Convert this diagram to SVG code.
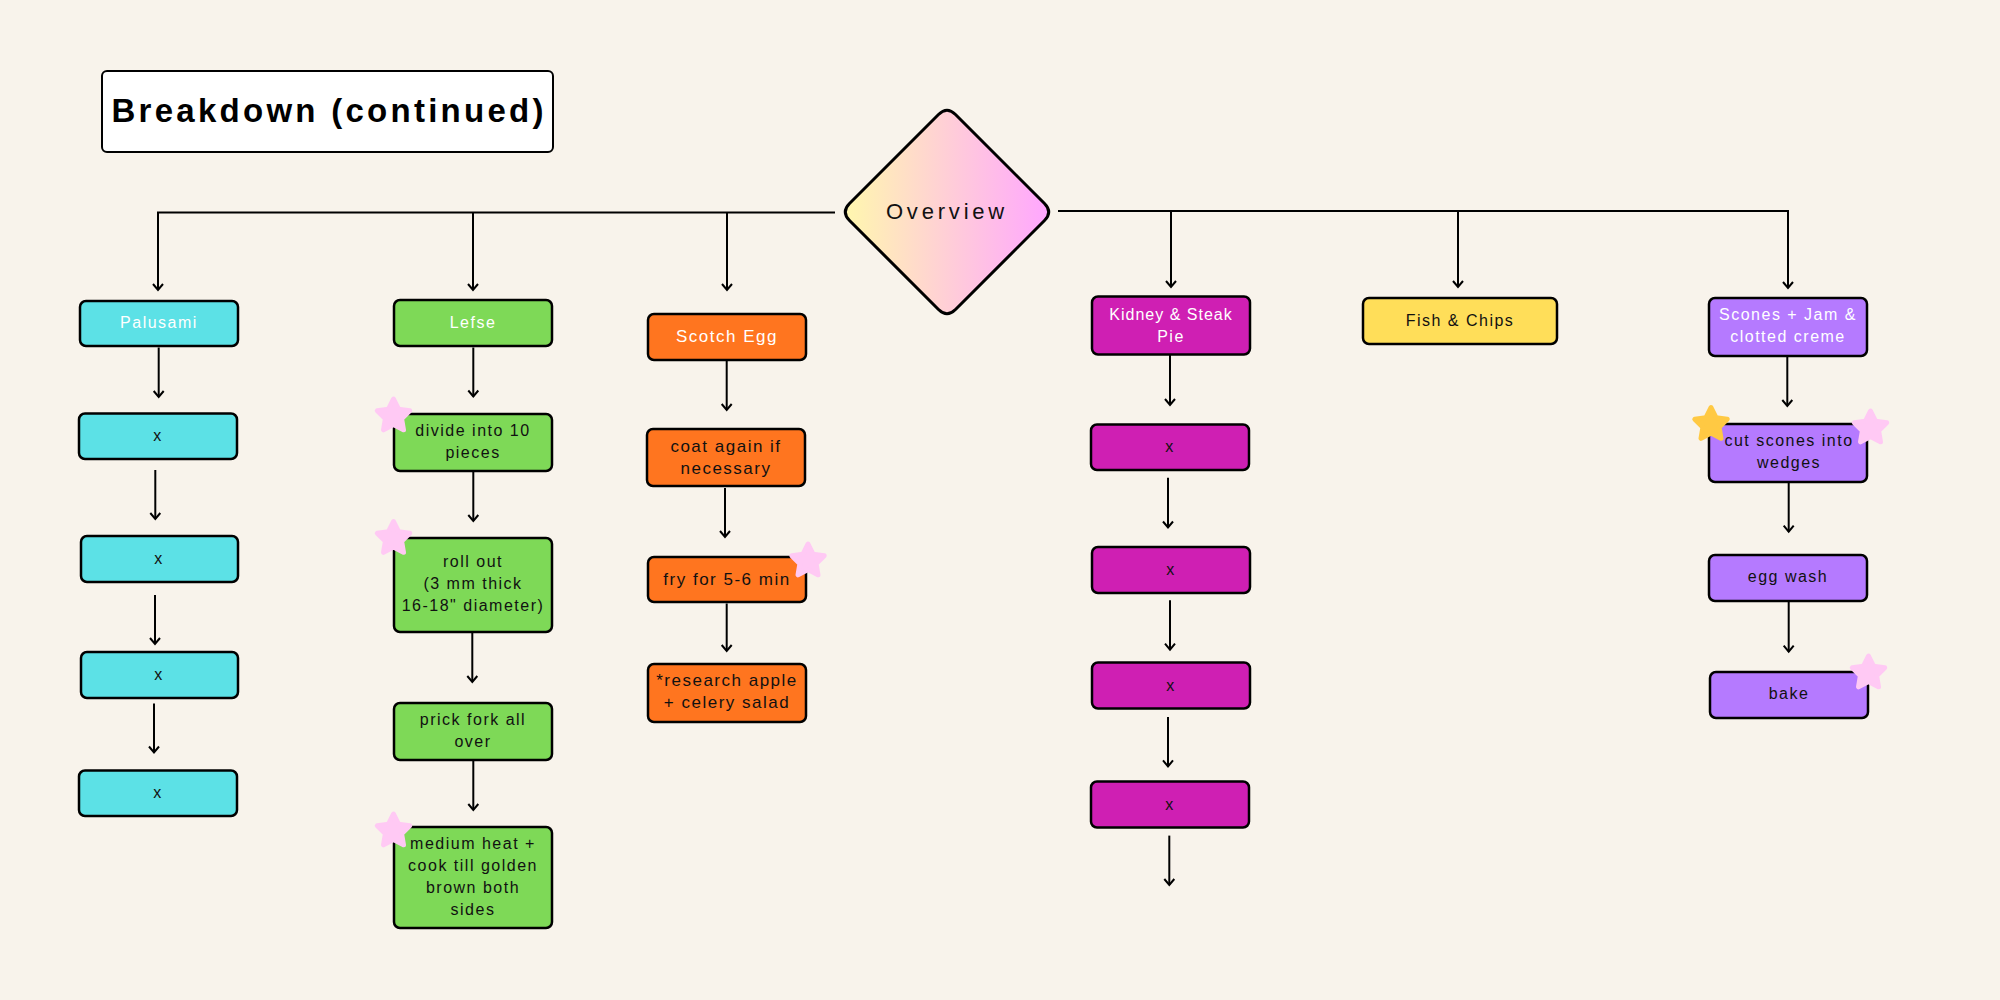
<svg xmlns="http://www.w3.org/2000/svg" xmlns:xlink="http://www.w3.org/1999/xlink" width="2000" height="1000" viewBox="0 0 2000 1000">
<style>
.box{stroke:#000;stroke-width:2.5}
.t{font-family:"Liberation Sans",Arial,sans-serif;font-size:16px;letter-spacing:1.5px;text-anchor:middle;fill:#111}
.w{fill:#fff}
.big{font-size:17px}
.c{fill:none;stroke:#000;stroke-width:2}
.cyan{fill:#5CE1E6}.green{fill:#7ED957}.orange{fill:#FF751F}.mag{fill:#CF1FB3}.yel{fill:#FFDE59}.pur{fill:#B57AFF}
.pink{fill:#FFC9F4;stroke:#FFC9F4;stroke-width:5;stroke-linejoin:round}
.gold{fill:#FFC943;stroke:#FFC943;stroke-width:5;stroke-linejoin:round}
</style>
<defs>
<linearGradient id="g" x1="0" y1="0" x2="1" y2="0">
<stop offset="0" stop-color="#FFF7AE"/>
<stop offset="1" stop-color="#FFA6FF"/>
</linearGradient>
<marker id="ah" markerUnits="userSpaceOnUse" markerWidth="14" markerHeight="14" viewBox="-8 -7 10 14" refX="0" refY="0" orient="auto">
<path d="M-6,-5 L0,0 L-6,5" fill="none" stroke="#000" stroke-width="2"/>
</marker>
<polygon id="star" points="0,-17 5,-6.9 16.2,-5.3 8.1,2.6 10,13.8 0,8.5 -10,13.8 -8.1,2.6 -16.2,-5.3 -5,-6.9"/>
</defs>
<rect width="2000" height="1000" fill="#F8F3EB"/>

<g id="title">
<rect x="102" y="71" width="451" height="81" rx="5" fill="#fff" stroke="#000" stroke-width="2"/>
<text x="327.5" y="122" font-family="Liberation Sans,Arial,sans-serif" font-weight="bold" font-size="33" text-anchor="middle" textLength="432" lengthAdjust="spacing">Breakdown (continued)</text>
</g>

<g id="connectors">
<path class="c" d="M835,212.5 H158 V290" marker-end="url(#ah)"/>
<path class="c" d="M473,212.5 V290" marker-end="url(#ah)"/>
<path class="c" d="M727,212.5 V290" marker-end="url(#ah)"/>
<path class="c" d="M1058,211 H1788 V288" marker-end="url(#ah)"/>
<path class="c" d="M1171,211 V287" marker-end="url(#ah)"/>
<path class="c" d="M1458,211 V287" marker-end="url(#ah)"/>

<path class="c" d="M158.7,347.5 V397" marker-end="url(#ah)"/>
<path class="c" d="M155.3,470 V519" marker-end="url(#ah)"/>
<path class="c" d="M155,595 V644" marker-end="url(#ah)"/>
<path class="c" d="M154,703.5 V752.5" marker-end="url(#ah)"/>

<path class="c" d="M473.3,347.5 V396.5" marker-end="url(#ah)"/>
<path class="c" d="M473.3,471.5 V521" marker-end="url(#ah)"/>
<path class="c" d="M472.3,633 V682" marker-end="url(#ah)"/>
<path class="c" d="M473.3,761 V810" marker-end="url(#ah)"/>

<path class="c" d="M726.7,361 V410" marker-end="url(#ah)"/>
<path class="c" d="M725,488 V537" marker-end="url(#ah)"/>
<path class="c" d="M726.7,603.5 V651" marker-end="url(#ah)"/>

<path class="c" d="M1170,355 V405" marker-end="url(#ah)"/>
<path class="c" d="M1168,477.7 V527.5" marker-end="url(#ah)"/>
<path class="c" d="M1170,600.3 V649.7" marker-end="url(#ah)"/>
<path class="c" d="M1168,717 V766.4" marker-end="url(#ah)"/>
<path class="c" d="M1169.3,835.6 V885" marker-end="url(#ah)"/>

<path class="c" d="M1787.3,356.7 V406" marker-end="url(#ah)"/>
<path class="c" d="M1788.7,482.7 V531.7" marker-end="url(#ah)"/>
<path class="c" d="M1788.7,602 V651.7" marker-end="url(#ah)"/>
</g>

<g id="overview">
<path d="M955.5,114.5 L1044.5,203.5 Q1053,212 1044.5,220.5 L955.5,309.5 Q947,318 938.5,309.5 L849.5,220.5 Q841,212 849.5,203.5 L938.5,114.5 Q947,106 955.5,114.5 Z" fill="url(#g)" stroke="#000" stroke-width="3"/>
<text x="947" y="218.5" font-family="Liberation Sans,Arial,sans-serif" font-size="22" letter-spacing="3.8" text-anchor="middle" fill="#111">Overview</text>
</g>

<!-- Palusami column -->
<g id="palusami"><rect class="box cyan" x="80" y="301" width="158" height="45" rx="6"/><text class="t w" x="159" y="328">Palusami</text></g>
<g id="pal-1"><rect class="box cyan" x="79" y="413.5" width="158" height="45.5" rx="6"/><text class="t" x="158" y="441">x</text></g>
<g id="pal-2"><rect class="box cyan" x="81" y="536" width="157" height="46" rx="6"/><text class="t" x="159" y="564">x</text></g>
<g id="pal-3"><rect class="box cyan" x="81" y="652" width="157" height="46" rx="6"/><text class="t" x="159" y="680">x</text></g>
<g id="pal-4"><rect class="box cyan" x="79" y="770.5" width="158" height="45.5" rx="6"/><text class="t" x="158" y="798">x</text></g>

<!-- Lefse column -->
<g id="lefse"><rect class="box green" x="394" y="300" width="158" height="46" rx="6"/><text class="t w" x="473" y="328">Lefse</text></g>
<g id="lefse-1"><rect class="box green" x="394" y="414" width="158" height="57" rx="6"/><text class="t" x="473" y="435.5">divide into 10</text><text class="t" x="473" y="457.5">pieces</text><use href="#star" class="pink" x="393.5" y="416"/></g>
<g id="lefse-2"><rect class="box green" x="394" y="538" width="158" height="94" rx="6"/><text class="t" x="473" y="566.5">roll out</text><text class="t" x="473" y="588.5">(3 mm thick</text><text class="t" x="473" y="610.5">16-18" diameter)</text><use href="#star" class="pink" x="393.5" y="538.5"/></g>
<g id="lefse-3"><rect class="box green" x="394" y="703" width="158" height="57" rx="6"/><text class="t" x="473" y="725">prick fork all</text><text class="t" x="473" y="747">over</text></g>
<g id="lefse-4"><rect class="box green" x="394" y="827" width="158" height="101" rx="6"/><text class="t" x="473" y="848.5">medium heat +</text><text class="t" x="473" y="870.5">cook till golden</text><text class="t" x="473" y="892.5">brown both</text><text class="t" x="473" y="914.5">sides</text><use href="#star" class="pink" x="393.5" y="831"/></g>

<!-- Scotch Egg column -->
<g id="scotch"><rect class="box orange" x="648" y="314" width="158" height="46" rx="6"/><text class="t w big" x="727" y="342">Scotch Egg</text></g>
<g id="scotch-1"><rect class="box orange" x="647" y="429" width="158" height="57" rx="6"/><text class="t big" x="726" y="452">coat again if</text><text class="t big" x="726" y="473.5">necessary</text></g>
<g id="scotch-2"><rect class="box orange" x="648" y="557" width="158" height="45" rx="6"/><text class="t big" x="727" y="585">fry for 5-6 min</text><use href="#star" class="pink" x="808" y="561"/></g>
<g id="scotch-3"><rect class="box orange" x="648" y="664" width="158" height="58" rx="6"/><text class="t big" x="727" y="686">*research apple</text><text class="t big" x="727" y="708">+ celery salad</text></g>

<!-- Kidney column -->
<g id="kidney"><rect class="box mag" x="1092" y="296.5" width="158" height="58" rx="6"/><text class="t w" x="1171" y="319.5" style="letter-spacing:1px">Kidney &amp; Steak</text><text class="t w" x="1171" y="341.5">Pie</text></g>
<g id="kidney-1"><rect class="box mag" x="1091" y="424.5" width="158" height="45.5" rx="6"/><text class="t" x="1170" y="452">x</text></g>
<g id="kidney-2"><rect class="box mag" x="1092" y="547" width="158" height="46" rx="6"/><text class="t" x="1171" y="575">x</text></g>
<g id="kidney-3"><rect class="box mag" x="1092" y="662.5" width="158" height="46" rx="6"/><text class="t" x="1171" y="690.5">x</text></g>
<g id="kidney-4"><rect class="box mag" x="1091" y="781.5" width="158" height="46" rx="6"/><text class="t" x="1170" y="809.5">x</text></g>

<!-- Fish & Chips -->
<g id="fish"><rect class="box yel" x="1363" y="298" width="194" height="46" rx="6"/><text class="t" x="1460" y="325.5">Fish &amp; Chips</text></g>

<!-- Scones column -->
<g id="scones"><rect class="box pur" x="1709" y="298" width="158" height="58" rx="6"/><text class="t w" x="1788" y="320">Scones + Jam &amp;</text><text class="t w" x="1788" y="342">clotted creme</text></g>
<g id="scones-1"><rect class="box pur" x="1709" y="424" width="158" height="58" rx="6"/><text class="t" x="1789" y="446">cut scones into</text><text class="t" x="1789" y="467.5">wedges</text><use href="#star" class="gold" x="1711" y="424.5"/><use href="#star" class="pink" x="1870.5" y="428"/></g>
<g id="scones-2"><rect class="box pur" x="1709" y="555" width="158" height="46" rx="6"/><text class="t" x="1788" y="582">egg wash</text></g>
<g id="scones-3"><rect class="box pur" x="1710" y="672" width="158" height="46" rx="6"/><text class="t" x="1789" y="699">bake</text><use href="#star" class="pink" x="1868.5" y="673"/></g>
</svg>
